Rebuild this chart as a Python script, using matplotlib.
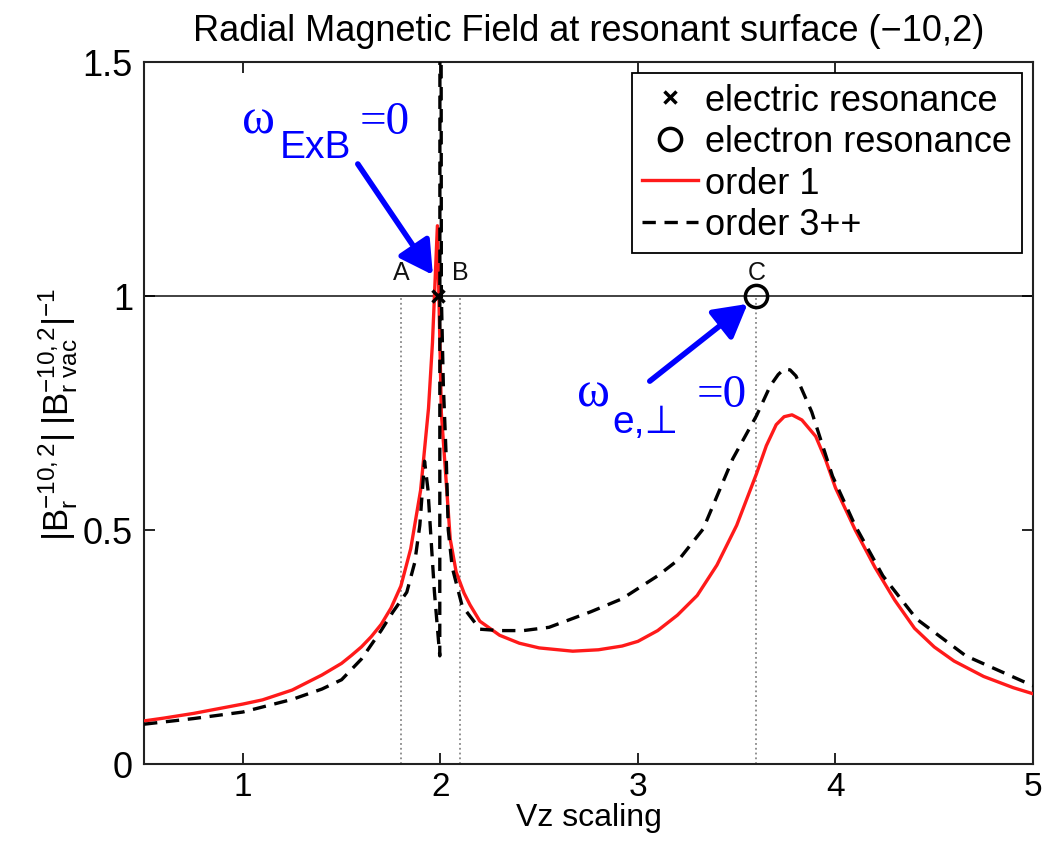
import matplotlib
matplotlib.use("Agg")
import matplotlib.pyplot as plt

plt.rcParams['font.family'] = ['Liberation Sans', 'DejaVu Sans']
plt.rcParams['mathtext.fontset'] = 'custom'
plt.rcParams['mathtext.rm'] = 'Liberation Sans'
plt.rcParams['mathtext.it'] = 'Liberation Sans:italic'
plt.rcParams['mathtext.bf'] = 'Liberation Sans:bold'
plt.rcParams['mathtext.sf'] = 'Liberation Sans'
plt.rcParams['mathtext.default'] = 'regular'

# ---- data ----
order1_x = [0.5, 0.6, 0.75, 0.9, 1.0, 1.1, 1.25, 1.4, 1.5, 1.55, 1.6, 1.65, 1.7, 1.75,
            1.8, 1.85, 1.9, 1.94, 1.96, 1.985,
            2.005, 2.03, 2.05, 2.08, 2.12, 2.15, 2.2, 2.3, 2.4, 2.5, 2.67, 2.8, 2.92,
            3.0, 3.1, 3.2, 3.3, 3.4, 3.5, 3.6, 3.65, 3.7, 3.74, 3.78, 3.83, 3.9, 3.95,
            4.0, 4.1, 4.2, 4.3, 4.4, 4.5, 4.6, 4.75, 4.9, 5.0]
order1_y = [0.092, 0.098, 0.108, 0.120, 0.128, 0.137, 0.158, 0.19, 0.215, 0.232,
            0.25, 0.272, 0.298, 0.333, 0.38, 0.46, 0.585, 0.76, 0.90, 1.15,
            0.75, 0.60, 0.48, 0.41, 0.365, 0.34, 0.305, 0.275, 0.258, 0.248,
            0.241, 0.244, 0.252, 0.262, 0.285, 0.318, 0.36, 0.425, 0.51, 0.62,
            0.68, 0.725, 0.742, 0.746, 0.735, 0.70, 0.65, 0.59, 0.50, 0.42, 0.35,
            0.29, 0.25, 0.22, 0.187, 0.163, 0.150]

order3_x = [0.5, 0.75, 1.0, 1.25, 1.4, 1.5, 1.6, 1.7, 1.76, 1.83, 1.87, 1.896, 1.92,
            1.937, 1.955, 1.97, 1.997, 1.999, 2.005, 2.015, 2.03, 2.04, 2.06, 2.11,
            2.2, 2.3, 2.42, 2.55, 2.76, 2.92, 3.1, 3.21, 3.33, 3.48, 3.6, 3.67, 3.71,
            3.74, 3.77, 3.8, 3.88, 3.985, 4.1, 4.24, 4.41, 4.66, 5.0]
order3_y = [0.085, 0.097, 0.111, 0.138, 0.16, 0.18, 0.224, 0.285, 0.325, 0.367, 0.43,
            0.51, 0.647, 0.587, 0.466, 0.367, 0.231, 4.0, 1.0, 0.81, 0.65, 0.50, 0.42,
            0.338, 0.288, 0.285, 0.285, 0.292, 0.325, 0.353, 0.402, 0.438, 0.502,
            0.652, 0.744, 0.808, 0.832, 0.844, 0.842, 0.829, 0.752, 0.615, 0.509,
            0.402, 0.31, 0.231, 0.167]

electric_res = (1.99, 1.0)
electron_res = (3.6, 1.0)
marker_lines_x = [1.8, 2.1, 3.6]
marker_labels = ['A', 'B', 'C']
xticks = [1, 2, 3, 4, 5]
yticks = [0, 0.5, 1, 1.5]
ytick_labels = ['0', '0.5', '1', '1.5']

fig = plt.figure(figsize=(10.46, 8.45), dpi=100)
ax = fig.add_axes([0.1377, 0.0947, 0.8499, 0.8308])

# reference line and dotted markers
ax.axhline(1.0, color='#333333', lw=1.3, zorder=1)
for xv, lab in zip(marker_lines_x, marker_labels):
    ax.plot([xv, xv], [0, 1], color='#888888', lw=1.3, linestyle=':', zorder=1)
    ax.text(xv, 1.025, lab, ha='center', va='bottom', fontsize=18, color='#111111')

l1, = ax.plot(order1_x, order1_y, color='#ff1a1a', lw=2.4, zorder=3, label='order 1')
l3, = ax.plot(order3_x, order3_y, color='black', lw=2.4, linestyle=(0, (4, 2.6)),
              zorder=4, label='order 3++')

mx, = ax.plot([electric_res[0]], [electric_res[1]], linestyle='none', marker='x',
              color='black', markersize=8, mew=2.5, zorder=5, label='electric resonance')
mo, = ax.plot([electron_res[0]], [electron_res[1]], linestyle='none', marker='o',
              mfc='none', mec='black', markersize=16, mew=2.5, zorder=5,
              label='electron resonance')

ax.set_xlim(0.5, 5)
ax.set_ylim(0, 1.5)
ax.set_xticks(xticks)
ax.set_xticklabels([str(t) for t in xticks])
ax.set_yticks(yticks)
ax.set_yticklabels(ytick_labels)
ax.tick_params(direction='in', length=8, width=1.2, top=True, right=True,
               labelsize=26, colors='black')
ax.tick_params(axis='x', pad=5, labelsize=24)
ax.tick_params(axis='y', pad=8)
for sp in ax.spines.values():
    sp.set_linewidth(1.5)
    sp.set_color('#222222')

ax.set_title('Radial Magnetic Field at resonant surface (\u221210,2)', fontsize=26, pad=16)
ax.set_xlabel('Vz scaling', fontsize=23, labelpad=0)
ax.set_ylabel(r'$|B_r^{-10,2}|\;|B_{r\ vac}^{-10,2}|^{-1}$', fontsize=25, labelpad=2)

leg = ax.legend(handles=[mx, mo, l1, l3], loc='upper right', fontsize=26,
                frameon=True, fancybox=False, framealpha=1, edgecolor='black',
                handlelength=1.55, handletextpad=0.2, labelspacing=0.18,
                borderpad=0.28, borderaxespad=0.3, numpoints=1)
leg.get_frame().set_linewidth(1.3)

# annotations
blue = '#0000ff'
ax.text(0.996, 1.350, '\u03c9', fontfamily='Liberation Serif', fontsize=36, color=blue,
        ha='left', va='baseline')
ax.text(1.188, 1.297, 'ExB', fontfamily='Liberation Sans', fontsize=28, color=blue,
        ha='left', va='baseline')
ax.text(1.593, 1.348, '=0', fontfamily='Liberation Serif', fontsize=34, color=blue,
        ha='left', va='baseline')
ax.annotate('', xy=(1.962, 1.045), xytext=(1.582, 1.282),
            arrowprops=dict(arrowstyle='-|>,head_length=0.8,head_width=0.45',
                            color=blue, lw=4, mutation_scale=25, shrinkA=0, shrinkB=0))

ax.text(2.690, 0.765, '\u03c9', fontfamily='Liberation Serif', fontsize=36, color=blue,
        ha='left', va='baseline')
ax.text(2.872, 0.709, 'e,\u22a5', fontfamily=['Liberation Sans', 'DejaVu Sans'],
        fontsize=28, color=blue, ha='left', va='baseline')
ax.text(3.297, 0.765, '=0', fontfamily='Liberation Serif', fontsize=34, color=blue,
        ha='left', va='baseline')
ax.annotate('', xy=(3.555, 0.983), xytext=(3.06, 0.818),
            arrowprops=dict(arrowstyle='-|>,head_length=0.8,head_width=0.45',
                            color=blue, lw=4, mutation_scale=25, shrinkA=0, shrinkB=0))

fig.savefig('out.png', dpi=100)
